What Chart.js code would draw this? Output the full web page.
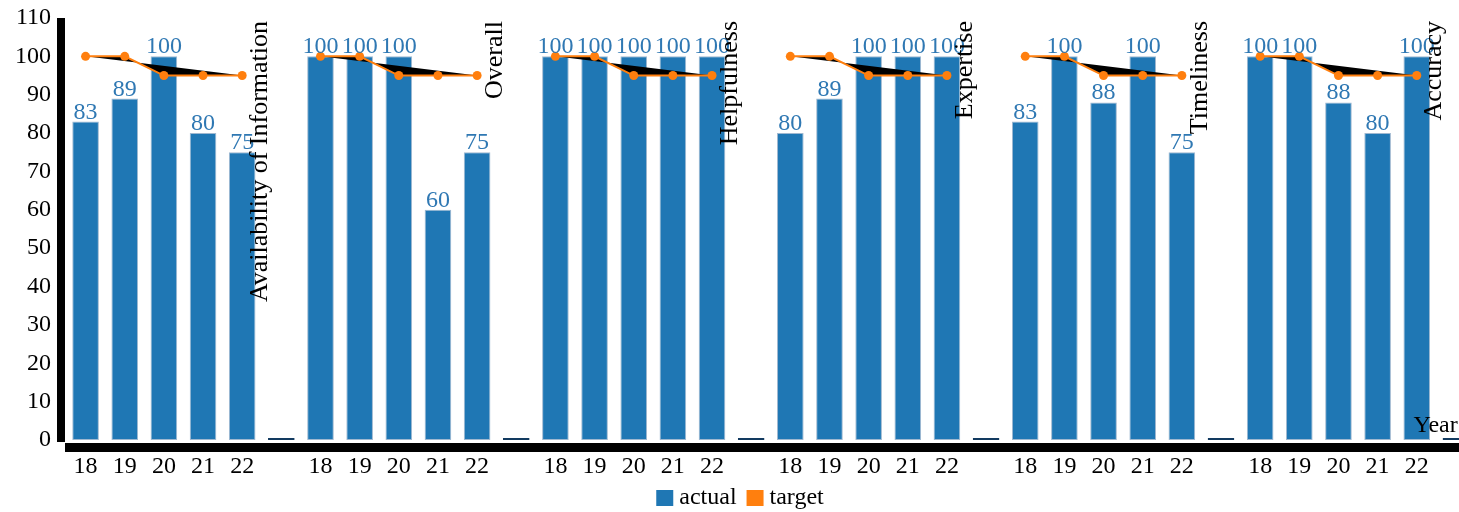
<!DOCTYPE html>
<html>
<head>
<meta charset="utf-8">
<script src="https://cdn.jsdelivr.net/npm/chart.js@4"></script>
<style>
  html, body { margin: 0; padding: 0; background: #fff; overflow: hidden; }
  #wrap { width: 1480px; height: 512px; }
</style>
</head>
<body>
<div id="wrap"><canvas id="chart" width="1480" height="512"></canvas></div>
<script>
// datos
const grupos = ["Availability of Information", "Overall", "Helpfulness", "Expertise", "Timeliness", "Accuracy"];
const anios = ["18", "19", "20", "21", "22"];
const actual = [
    [83, 89, 100, 80, 75],
    [100, 100, 100, 60, 75],
    [100, 100, 100, 100, 100],
    [80, 89, 100, 100, 100],
    [83, 100, 88, 100, 75],
    [100, 100, 88, 80, 100]
];
const target = [
    [100, 100, 95, 95, 95],
    [100, 100, 95, 95, 95],
    [100, 100, 95, 95, 95],
    [100, 100, 95, 95, 95],
    [100, 100, 95, 95, 95],
    [100, 100, 95, 95, 95]
];

const AZUL = "#1f77b4";
const NARANJA = "#ff7f0e";
const FUENTE = "'Liberation Serif', 'DejaVu Serif', serif";

// armar etiquetas y series con un hueco entre grupos
var etiquetas = [];
var datosActual = [];
var datosTarget = [];
var coloresBarra = [];
var bordesBarra = [];
grupos.forEach(function (g, gi) {
    anios.forEach(function (a, ai) {
        etiquetas.push(a);
        datosActual.push(actual[gi][ai]);
        datosTarget.push(target[gi][ai]);
        coloresBarra.push(AZUL);
        bordesBarra.push("#9fb8d0");
    });
    etiquetas.push("");
    datosActual.push(0);
    datosTarget.push(null);
    coloresBarra.push("#123a60");
    bordesBarra.push("#123a60");
});

// ejes gruesos negros, desplazados como en el original
const ejesPlugin = {
    id: "ejes",
    beforeDatasetsDraw(chart) {
        const ctx = chart.ctx;
        const a = chart.chartArea;
        ctx.save();
        ctx.fillStyle = "#000";
        ctx.fillRect(a.left - 9, a.top, 8, a.bottom - a.top + 2);
        ctx.fillRect(a.left - 1, a.bottom + 3, a.right - a.left + 10, 9);
        ctx.restore();
    }
};

// relleno negro de la linea target (cada tramo cerrado sobre si mismo)
const rellenoPlugin = {
    id: "relleno",
    beforeDatasetDraw(chart, args) {
        if (args.index !== 1) return;
        const ctx = chart.ctx;
        const puntos = args.meta.data;
        ctx.save();
        ctx.fillStyle = "#000";
        let tramo = [];
        const cerrar = function () {
            if (tramo.length > 2) {
                ctx.beginPath();
                ctx.moveTo(tramo[0].x, tramo[0].y);
                tramo.forEach(function (p) { ctx.lineTo(p.x, p.y); });
                ctx.closePath();
                ctx.fill();
            }
            tramo = [];
        };
        puntos.forEach(function (p, i) {
            if (datosTarget[i] === null) { cerrar(); } else { tramo.push(p); }
        });
        cerrar();
        ctx.restore();
    }
};

// valores sobre las barras, nombres de grupo, titulo "Year" y leyenda
const textosPlugin = {
    id: "textos",
    afterDatasetsDraw(chart) {
        const ctx = chart.ctx;
        const a = chart.chartArea;
        const x = chart.scales.x;
        const barras = chart.getDatasetMeta(0).data;
        ctx.save();
        ctx.font = "24px " + FUENTE;
        ctx.fillStyle = "#2f78b3";
        ctx.textAlign = "center";
        ctx.textBaseline = "alphabetic";
        barras.forEach(function (b, i) {
            if (etiquetas[i] === "") return;
            ctx.fillText(String(datosActual[i]), b.x, b.y - 3);
        });

        const paso = x.getPixelForValue(1) - x.getPixelForValue(0);
        ctx.fillStyle = "#000";
        ctx.font = "26px " + FUENTE;
        grupos.forEach(function (g, gi) {
            const px = x.getPixelForValue(gi * 6 + 4) + paso * 0.63;
            ctx.save();
            ctx.translate(px, a.top + 3);
            ctx.rotate(-Math.PI / 2);
            ctx.textAlign = "right";
            ctx.fillText(g, 0, 0);
            ctx.restore();
        });

        ctx.font = "24px " + FUENTE;
        ctx.textAlign = "left";
        ctx.fillText("Year", a.right - 62, a.bottom - 8);

        // leyenda propia, centrada en el lienzo
        const items = chart.data.datasets.map(function (d) {
            return { texto: d.label, color: d.type === "line" ? d.borderColor : AZUL };
        });
        let ancho = 0;
        items.forEach(function (it, i) {
            ancho += 17 + 6 + ctx.measureText(it.texto).width + (i > 0 ? 10 : 0);
        });
        let lx = chart.width / 2 - ancho / 2;
        const ly = chart.height - 22;
        items.forEach(function (it) {
            ctx.fillStyle = it.color;
            ctx.fillRect(lx, ly, 17, 16);
            ctx.fillStyle = "#000";
            ctx.fillText(it.texto, lx + 23, ly + 14);
            lx += 17 + 6 + ctx.measureText(it.texto).width + 10;
        });
        ctx.restore();
    }
};

const ctx = document.getElementById("chart").getContext("2d");
const chart = new Chart(ctx, {
    type: "bar",
    data: {
        labels: etiquetas,
        datasets: [
            {
                label: "actual",
                data: datosActual,
                backgroundColor: coloresBarra,
                borderColor: bordesBarra,
                borderWidth: 1,
                borderSkipped: false,
                minBarLength: 2,
                categoryPercentage: 1.0,
                barPercentage: 0.68,
                order: 2
            },
            {
                type: "line",
                label: "target",
                data: datosTarget,
                borderColor: NARANJA,
                backgroundColor: NARANJA,
                borderWidth: 2,
                pointRadius: 4.5,
                pointBackgroundColor: NARANJA,
                pointBorderWidth: 0,
                fill: false,
                spanGaps: false,
                tension: 0,
                order: 1
            }
        ]
    },
    options: {
        responsive: false,
        animation: false,
        devicePixelRatio: 1,
        layout: { padding: { top: 18, left: 0, right: 1, bottom: 30 } },
        plugins: {
            legend: { display: false },
            tooltip: { enabled: false }
        },
        scales: {
            x: {
                grid: { display: false, drawTicks: false },
                border: { display: false },
                ticks: {
                    autoSkip: false,
                    maxRotation: 0,
                    padding: 12,
                    color: "#000",
                    font: { family: FUENTE, size: 24 }
                },
                afterFit: function (escala) {
                    escala.height = 42;
                    escala.paddingLeft = 0;
                    escala.paddingRight = 0;
                }
            },
            y: {
                min: 0,
                max: 110,
                grid: { display: false, drawTicks: false },
                border: { display: false },
                ticks: {
                    stepSize: 10,
                    padding: 15,
                    color: "#000",
                    font: { family: FUENTE, size: 24 }
                },
                afterFit: function (escala) {
                    escala.paddingTop = 0;
                    escala.paddingBottom = 0;
                }
            }
        }
    },
    plugins: [ejesPlugin, rellenoPlugin, textosPlugin]
});
</script>
</body>
</html>
